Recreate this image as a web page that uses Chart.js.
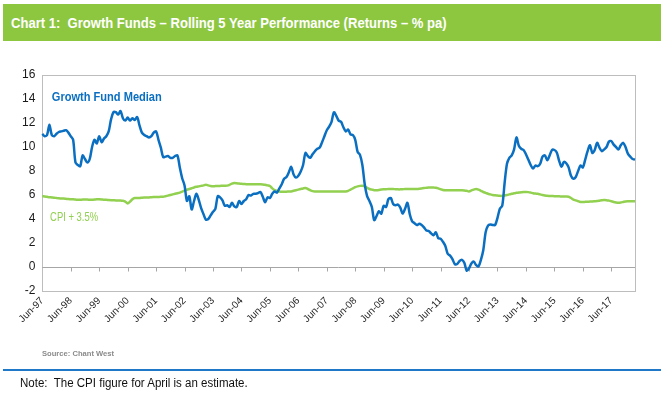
<!DOCTYPE html>
<html>
<head>
<meta charset="utf-8">
<script src="https://cdn.jsdelivr.net/npm/chart.js@4.4.1/dist/chart.umd.min.js"></script>
<style>
    body { margin: 0; background: #fff; }
    #wrap { position: relative; width: 664px; height: 399px; overflow: hidden;
            font-family: 'Liberation Sans', Arial, sans-serif; }
    #growthChart { position: absolute; left: 0; top: 0; }
    .title { position: absolute; left: 3px; top: 4px; width: 650px; height: 37px; padding-left: 8px;
             background: #8dc63f; color: #fff; font-weight: bold; font-size: 15px; line-height: 37px; }
    .title span { display: inline-block; transform: scaleX(0.87); transform-origin: left center; white-space: nowrap; }
    .source { position: absolute; left: 42px; top: 349px; font-size: 8px; font-weight: bold; color: #8a8a8a;
              transform: scaleX(0.95); transform-origin: left top; }
    .rule { position: absolute; left: 3px; top: 369px; width: 658px; height: 2px; background: #1f78c8; }
    .note { position: absolute; left: 20px; top: 376px; font-size: 12px; color: #111; white-space: nowrap;
            transform: scaleX(0.96); transform-origin: left top; }
</style>
</head>
<body>
<div id="wrap">
    <canvas id="growthChart" width="664" height="399"></canvas>
    <div class="title"><span>Chart 1:&nbsp; Growth Funds – Rolling 5 Year Performance (Returns – % pa)</span></div>
    <div class="source">Source: Chant West</div>
    <div class="rule"></div>
    <div class="note">Note:&nbsp; The CPI figure for April is an estimate.</div>
</div>
<script>
// monthly, Jun-97 .. Apr-18
const tickLabels = ['Jun-97', 'Jun-98', 'Jun-99', 'Jun-00', 'Jun-01', 'Jun-02', 'Jun-03', 'Jun-04', 'Jun-05', 'Jun-06',
    'Jun-07', 'Jun-08', 'Jun-09', 'Jun-10', 'Jun-11', 'Jun-12', 'Jun-13', 'Jun-14', 'Jun-15', 'Jun-16', 'Jun-17'];

const monthNames = ['Jan', 'Feb', 'Mar', 'Apr', 'May', 'Jun', 'Jul', 'Aug', 'Sep', 'Oct', 'Nov', 'Dec'];
const months = [];
for (let i = 0; i < 251; i++) {
    const m = 5 + i;
    months.push(monthNames[m % 12] + '-' + String((1997 + Math.floor(m / 12)) % 100).padStart(2, '0'));
}

const fundMedian = [
    11.1, 10.9, 11.0, 11.85, 11.0, 10.9, 11.1, 11.25, 11.3, 11.35, 11.4, 11.2,
    10.9, 10.6, 8.7, 8.5, 8.4, 9.3, 9.0, 8.7, 9.0, 10.0, 10.6, 10.3,
    10.9, 10.4, 10.7, 10.9, 11.3, 12.3, 12.9, 12.9, 12.7, 13.0, 12.4, 12.2,
    12.45, 12.2, 12.4, 12.25, 12.5, 11.8, 11.2, 11.0, 10.9, 10.8, 10.9, 11.2,
    11.3, 10.6, 9.95, 9.15, 9.2, 9.25, 9.1, 9.1, 9.25, 9.3, 8.3, 7.4,
    6.8, 5.5, 5.9, 4.8, 5.5, 6.1, 5.6, 4.9, 4.4, 3.95, 4.0, 4.3,
    4.6, 4.85, 5.9, 5.8, 5.55, 5.1, 5.15, 5.0, 5.35, 5.05, 5.0, 5.5,
    5.25, 5.5, 5.65, 6.0, 5.95, 6.1, 6.1, 6.15, 6.25, 5.85, 5.4, 5.8,
    5.75, 6.1, 6.3, 6.2, 6.55, 6.9, 7.35, 7.5, 7.9, 8.35, 7.7, 7.45,
    7.6, 7.95, 8.5, 9.5, 9.25, 9.1, 9.4, 9.65, 9.85, 9.95, 10.4, 10.9,
    11.4, 11.7, 12.1, 12.9, 12.6, 12.2, 12.1, 11.65, 11.3, 11.45, 11.05, 11.0,
    10.6, 9.6, 9.35, 8.5, 6.9, 5.9, 5.5, 5.0, 3.9, 4.25, 4.65, 4.45,
    5.1, 5.0, 5.65, 5.75, 5.25, 5.15, 5.2, 4.95, 4.45, 4.85, 5.35, 4.4,
    3.8, 3.65, 3.5, 3.6, 3.5, 3.3, 3.05, 3.0, 2.8, 2.65, 2.9, 2.4,
    2.35, 2.1, 1.75, 1.1, 0.95, 0.65, 0.25, 0.25, 0.5, 0.6, 0.35, -0.3,
    -0.1, 0.3, 0.45, 0.15, 0.05, 0.6, 1.4, 2.9, 3.45, 3.55, 3.5, 3.5,
    4.1, 4.85, 5.1, 7.0, 8.6, 9.1, 9.3, 9.8, 10.8, 10.1, 9.85, 9.75,
    9.4, 8.95, 8.5, 8.2, 8.45, 8.4, 8.6, 9.2, 9.3, 8.9, 9.3, 9.75,
    9.75, 9.55, 8.85, 8.35, 8.75, 8.65, 8.3, 7.6, 7.35, 7.5, 8.0, 8.45,
    8.3, 8.95, 9.65, 10.15, 9.5, 9.75, 10.35, 9.95, 9.65, 9.8, 10.0, 10.45,
    10.5, 10.2, 10.0, 9.8, 10.15, 10.35, 10.0, 9.45, 9.2, 9.0, 8.95
];

const cpiPlus = [
    5.9, 5.88, 5.85, 5.82, 5.8, 5.78, 5.75, 5.72, 5.7, 5.7, 5.68, 5.66,
    5.65, 5.64, 5.62, 5.6, 5.6, 5.62, 5.63, 5.62, 5.6, 5.6, 5.62, 5.65,
    5.65, 5.63, 5.6, 5.6, 5.58, 5.57, 5.57, 5.55, 5.55, 5.55, 5.52, 5.45,
    5.3, 5.45, 5.65, 5.75, 5.75, 5.75, 5.78, 5.8, 5.8, 5.8, 5.82, 5.83,
    5.83, 5.84, 5.85, 5.85, 5.9, 5.95, 6.0, 6.05, 6.1, 6.15, 6.2, 6.28,
    6.36, 6.44, 6.5, 6.56, 6.63, 6.68, 6.72, 6.76, 6.8, 6.85, 6.8, 6.75,
    6.73, 6.74, 6.75, 6.76, 6.77, 6.77, 6.78, 6.85, 6.95, 7.0, 6.98, 6.95,
    6.93, 6.92, 6.9, 6.9, 6.9, 6.9, 6.9, 6.9, 6.9, 6.88, 6.85, 6.8,
    6.75, 6.55, 6.4, 6.33, 6.3, 6.28, 6.27, 6.28, 6.3, 6.3, 6.35, 6.4,
    6.45, 6.5, 6.55, 6.58, 6.5, 6.4, 6.32, 6.3, 6.3, 6.3, 6.3, 6.3,
    6.3, 6.3, 6.3, 6.3, 6.3, 6.3, 6.3, 6.3, 6.3, 6.35, 6.45, 6.55,
    6.65, 6.72, 6.76, 6.77, 6.72, 6.6, 6.5, 6.45, 6.4, 6.4, 6.42, 6.45,
    6.47, 6.48, 6.5, 6.5, 6.5, 6.48, 6.47, 6.47, 6.48, 6.5, 6.5, 6.5,
    6.5, 6.5, 6.5, 6.52, 6.55, 6.58, 6.6, 6.62, 6.63, 6.63, 6.6, 6.55,
    6.48, 6.42, 6.4, 6.4, 6.4, 6.4, 6.4, 6.4, 6.4, 6.4, 6.38, 6.35,
    6.3, 6.38, 6.45, 6.5, 6.45, 6.35, 6.25, 6.18, 6.1, 6.05, 6.0, 5.97,
    5.95, 5.93, 5.93, 5.96, 6.0, 6.05, 6.1, 6.14, 6.18, 6.2, 6.22, 6.24,
    6.25, 6.24, 6.2, 6.15, 6.12, 6.1, 6.05, 6.0, 5.96, 5.93, 5.92, 5.91,
    5.9, 5.9, 5.89, 5.88, 5.87, 5.87, 5.85, 5.75, 5.62, 5.55, 5.48, 5.42,
    5.42, 5.43, 5.44, 5.45, 5.46, 5.48, 5.5, 5.53, 5.56, 5.58, 5.57, 5.53,
    5.48, 5.42, 5.38, 5.36, 5.38, 5.42, 5.46, 5.47, 5.47, 5.47, 5.47
];

const seriesNames = ['Growth Fund Median', 'CPI + 3.5%'];
const seriesColors = ['#0b6fc1', '#92d050'];

const FONT = "'Liberation Sans', Arial, sans-serif";

// plot frame, zero axis with year ticks
const framePlugin = {
    id: 'frame',
    beforeDatasetsDraw(chart) {
        const { ctx, chartArea: a, scales: { x, y } } = chart;
        ctx.save();
        ctx.lineWidth = 1;
        ctx.strokeStyle = '#bdbdbd';
        ctx.strokeRect(Math.round(a.left) + 0.5, Math.round(a.top) + 0.5,
            Math.round(a.right - a.left), Math.round(a.bottom - a.top));
        const y0 = Math.round(y.getPixelForValue(0)) + 0.5;
        ctx.strokeStyle = '#a6a6a6';
        ctx.beginPath();
        ctx.moveTo(a.left, y0);
        ctx.lineTo(a.right, y0);
        for (let i = 12; i < months.length; i += 12) {
            const px = Math.round(x.getPixelForValue(i)) + 0.5;
            ctx.moveTo(px, y0);
            ctx.lineTo(px, y0 + 4);
        }
        ctx.stroke();
        ctx.restore();
    }
};

// series names written next to the lines (narrowed like the original)
const seriesLabels = {
    id: 'seriesLabels',
    afterDatasetsDraw(chart) {
        const { ctx, scales: { x, y } } = chart;
        ctx.save();
        ctx.textBaseline = 'middle';
        ctx.fillStyle = seriesColors[0];
        ctx.font = 'bold 12px ' + FONT;
        ctx.fillText(seriesNames[0], x.getPixelForValue(4), y.getPixelForValue(14.1), 110);
        ctx.fillStyle = seriesColors[1];
        ctx.font = '12px ' + FONT;
        ctx.fillText(seriesNames[1], x.getPixelForValue(3.3), y.getPixelForValue(4.1), 48);
        ctx.restore();
    }
};

const ctx = document.getElementById('growthChart').getContext('2d');
new Chart(ctx, {
    type: 'line',
    data: {
        labels: months,
        datasets: [{
            label: seriesNames[0],
            data: fundMedian,
            borderColor: seriesColors[0],
            borderWidth: 2.5,
            pointRadius: 0,
            tension: 0.3
        }, {
            label: seriesNames[1],
            data: cpiPlus,
            borderColor: seriesColors[1],
            borderWidth: 2.5,
            pointRadius: 0,
            tension: 0.3
        }]
    },
    options: {
        responsive: false,
        animation: false,
        devicePixelRatio: 1,
        layout: { padding: { top: 75, right: 29, left: 0, bottom: 0 } },
        plugins: {
            legend: { display: false },
            tooltip: { enabled: false }
        },
        scales: {
            x: {
                grid: { display: false, drawTicks: false },
                border: { display: false },
                ticks: {
                    autoSkip: false,
                    minRotation: 45,
                    maxRotation: 45,
                    padding: 4,
                    color: '#262626',
                    font: { size: 10, family: FONT },
                    callback: (v, i) => (i % 12 === 0 ? tickLabels[i / 12] : '')
                },
                afterFit: (s) => { s.height = 108; }
            },
            y: {
                min: -2,
                max: 16,
                grid: { display: false, drawTicks: false },
                border: { display: false },
                ticks: {
                    stepSize: 2,
                    padding: 7,
                    color: '#1a1a1a',
                    font: { size: 12, family: FONT }
                },
                afterFit: (s) => { s.width = 42.3; }
            }
        }
    },
    plugins: [framePlugin, seriesLabels]
});
</script>
</body>
</html>
